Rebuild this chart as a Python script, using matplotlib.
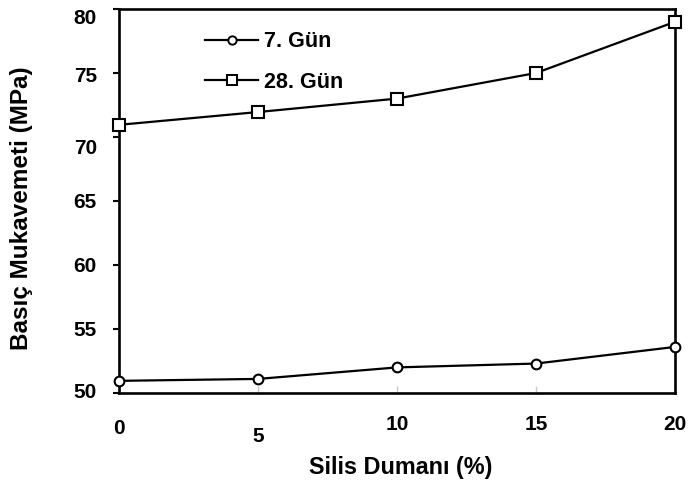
import matplotlib
matplotlib.use("Agg")
import matplotlib.pyplot as plt
from matplotlib.lines import Line2D
import matplotlib.transforms as mtransforms

plt.rcParams['font.family'] = ['Liberation Sans', 'DejaVu Sans']
plt.rcParams['font.weight'] = 'bold'

# Silica fume content (%) and compressive strength (MPa)
silis_dumani = [0, 5, 10, 15, 20]
gun_7 = [50.95, 51.1, 52.0, 52.3, 53.6]
gun_28 = [70.95, 71.95, 73.0, 75.0, 79.0]
y_ticks = [50, 55, 60, 65, 70, 75, 80]
x_ticks = [0, 5, 10, 15, 20]

fig = plt.figure(figsize=(6.88, 4.84), dpi=100)
ax = fig.add_axes([119 / 688, 1 - 393 / 484, 556 / 688, 384 / 484])

ax.plot(silis_dumani, gun_7, color='black', lw=1.6, marker='o', ms=7,
        mfc='white', mec='black', mew=1.5, clip_on=False, zorder=3)
ax.plot(silis_dumani, gun_28, color='black', lw=1.6, marker='s', ms=8.5,
        mfc='white', mec='black', mew=1.5, clip_on=False, zorder=3)

ax.set_xlim(0, 20)
ax.set_ylim(50, 80)
ax.set_yticks(y_ticks)
ax.set_yticklabels([str(v) for v in y_ticks])
ax.set_xticks(x_ticks)
ax.set_xticklabels([str(v) for v in x_ticks])

for s in ax.spines.values():
    s.set_linewidth(1.9)

ax.tick_params(axis='y', direction='out', length=4, width=1.5,
               labelsize=15, pad=12)
ax.tick_params(axis='x', direction='in', length=5, width=1.0,
               colors='#c8c8c8', labelcolor='black', labelsize=15, pad=16)

# hand-set label nudges (pixels, positive = up)
x_offsets = [-4, -12, 0, 0, 0]
for lbl, dy in zip(ax.get_xticklabels(), x_offsets):
    lbl.set_transform(lbl.get_transform() +
                      mtransforms.ScaledTranslation(0, dy / 100, fig.dpi_scale_trans))
    lbl.set_fontweight('bold')
y_offsets = [3, 0, 0, 0, -10, -1, -8]
for lbl, dy in zip(ax.get_yticklabels(), y_offsets):
    lbl.set_transform(lbl.get_transform() +
                      mtransforms.ScaledTranslation(0, dy / 100, fig.dpi_scale_trans))
    lbl.set_fontweight('bold')

ax.set_xlabel('Silis Dumanı (%)', fontsize=16.8, fontweight='bold', va='center')
ax.xaxis.set_label_coords(0.507, -0.193)
ax.set_ylabel('Basıç Mukavemeti (MPa)', fontsize=17.5, fontweight='bold', va='center')
ax.yaxis.set_label_coords(-0.1745, 0.482)

handles = [
    Line2D([], [], color='black', lw=1.6, marker='o', ms=6, mfc='white',
           mec='black', mew=1.4),
    Line2D([], [], color='black', lw=1.6, marker='s', ms=7.5, mfc='white',
           mec='black', mew=1.4),
]
ax.legend(handles, ['7. Gün', '28. Gün'], loc='upper left',
          bbox_to_anchor=(0.155, 0.942), frameon=False,
          handlelength=2.45, handletextpad=0.3, labelspacing=0.9,
          borderpad=0, borderaxespad=0,
          prop={'weight': 'bold', 'size': 15.5})

fig.savefig('out.png', dpi=100)
